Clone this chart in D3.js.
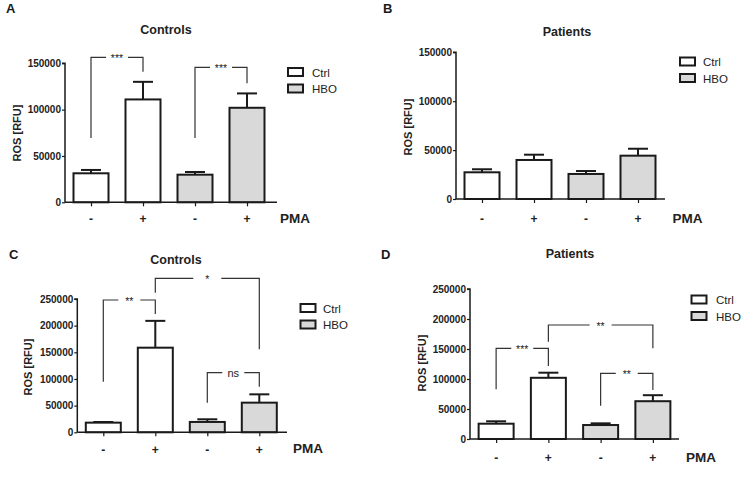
<!DOCTYPE html>
<html><head><meta charset="utf-8">
<script src="https://cdn.jsdelivr.net/npm/d3@7"></script>
<style>
body{margin:0;background:#fff;}
svg{display:block;font-family:"Liberation Sans",Arial,sans-serif;}
</style></head>
<body>
<svg id="chart" width="750" height="477"></svg>
<script>
// ---- data ----
const pmaLabels = ["-", "+", "-", "+"];
const treatments = ["Ctrl", "Ctrl", "HBO", "HBO"];
const legendLabels = ["Ctrl", "HBO"];
const panelLetters = ["A", "B", "C", "D"];
const panelTitles = ["Controls", "Patients", "Controls", "Patients"];

const aMeans = [31300, 111000, 29800, 102000];
const aSem   = [3600, 19000, 2900, 15500];
const bMeans = [27300, 39900, 25600, 44300];
const bSem   = [3100, 5400, 3000, 7100];
const cMeans = [18100, 158700, 19400, 55600];
const cSem   = [1200, 50300, 5000, 15600];
const dMeans = [25500, 102000, 23300, 63000];
const dSem   = [4000, 8500, 2800, 10000];

const ticksAB = [0, 50000, 100000, 150000];
const ticksCD = [0, 50000, 100000, 150000, 200000, 250000];

// brackets: [from, to, label, top, leftBottom, rightBottom] in data units
const aBrackets = [[0, 1, "***", 156500, 69400, 140800], [2, 3, "***", 145700, 69400, 128400]];
const bBrackets = [];
const cBrackets = [[0, 1, "**", 248100, 94900, 221900], [1, 3, "*", 288800, 261800, 155700], [2, 3, "ns", 111800, 55500, 85500]];
const dBrackets = [[0, 1, "***", 151200, 82800, 121700], [1, 3, "**", 190000, 162200, 151200], [2, 3, "**", 109500, 55500, 81700]];

// ---- layout ----
const panels = [
  {means: aMeans, sem: aSem, ticks: ticksAB, br: aBrackets, ax: 65, xr: 273, xEnd: 277, y0: 202.3, yTop: 63.3, letter: [6, 13], title: [166, 34], ylab: [21, 133], legend: [288, 68, 312], pma: [295, 223], xl: 223},
  {means: bMeans, sem: bSem, ticks: ticksAB, br: bBrackets, ax: 456, xr: 664, xEnd: 665, y0: 199, yTop: 52.3, letter: [383, 13], title: [567, 36], ylab: [412, 127], legend: [680, 57.5, 703], pma: [687.5, 223], xl: 223},
  {means: cMeans, sem: cSem, ticks: ticksCD, br: cBrackets, ax: 77.3, xr: 285.3, xEnd: 287, y0: 432.3, yTop: 299, letter: [9, 259], title: [176, 264], ylab: [32, 367], legend: [300.5, 304, 323], pma: [308, 453], xl: 454},
  {means: dMeans, sem: dSem, ticks: ticksCD, br: dBrackets, ax: 470, xr: 679, xEnd: 679, y0: 439, yTop: 289, letter: [381, 259], title: [570, 258], ylab: [426, 363], legend: [691.5, 295.5, 716], pma: [701, 462], xl: 462}
];

const svg = d3.select("#chart");
const ink = "#1a1a1a";
const grey = "#d9d9d9";
const fillOf = t => t === "Ctrl" ? "#ffffff" : grey;

panels.forEach((p, pi) => {
  const g = svg.append("g");
  const maxV = p.ticks[p.ticks.length - 1];
  const y = d3.scaleLinear().domain([0, maxV]).range([p.y0, p.yTop]);
  const x = d3.scalePoint().domain(d3.range(4)).range([p.ax, p.xr]).padding(0.5);
  const bw = 35;

  g.append("text").attr("x", p.letter[0]).attr("y", p.letter[1])
    .attr("font-size", 13).attr("font-weight", "bold").attr("fill", ink).text(panelLetters[pi]);
  g.append("text").attr("x", p.title[0]).attr("y", p.title[1]).attr("text-anchor", "middle")
    .attr("font-size", 12.5).attr("font-weight", "bold").attr("fill", "#222").text(panelTitles[pi]);
  g.append("text").attr("transform", `translate(${p.ylab[0]},${p.ylab[1]}) rotate(-90)`)
    .attr("text-anchor", "middle").attr("font-size", 11).attr("font-weight", "bold").attr("fill", "#222")
    .text("ROS [RFU]");

  g.selectAll("rect.bar").data(p.means).enter().append("rect")
    .attr("x", (d, i) => x(i) - bw / 2).attr("width", bw)
    .attr("y", d => y(d)).attr("height", d => p.y0 - y(d))
    .attr("fill", (d, i) => fillOf(treatments[i])).attr("stroke", ink).attr("stroke-width", 2);
  p.means.forEach((m, i) => {
    const top = y(m + p.sem[i]);
    g.append("line").attr("x1", x(i)).attr("x2", x(i)).attr("y1", y(m)).attr("y2", top)
      .attr("stroke", ink).attr("stroke-width", 2);
    g.append("line").attr("x1", x(i) - 10).attr("x2", x(i) + 10).attr("y1", top).attr("y2", top)
      .attr("stroke", ink).attr("stroke-width", 2);
  });

  const yAxis = d3.axisLeft(y).tickValues(p.ticks).tickSize(3).tickPadding(1).tickFormat(d3.format("d"));
  const ya = g.append("g").attr("transform", `translate(${p.ax},0)`).call(yAxis);
  ya.attr("font-size", 10).attr("font-family", "Liberation Sans, Arial, sans-serif");
  ya.select(".domain").attr("stroke", ink).attr("stroke-width", 1.5).attr("d", `M-3,${y(maxV)}H0V${p.y0}`);
  ya.selectAll(".tick line").attr("stroke", ink).attr("stroke-width", 1.2);
  ya.selectAll(".tick text").attr("font-size", 10).attr("font-weight", "bold").attr("fill", "#222");

  const xAxis = d3.axisBottom(x).tickSize(4).tickFormat(() => "");
  const xa = g.append("g").attr("transform", `translate(0,${p.y0})`).call(xAxis);
  xa.select(".domain").attr("stroke", ink).attr("stroke-width", 1.5).attr("d", `M${p.ax},0H${p.xEnd}`);
  xa.selectAll(".tick line").attr("stroke", ink).attr("stroke-width", 1.2);
  g.selectAll("text.pmaTick").data(pmaLabels).enter().append("text")
    .attr("x", (d, i) => x(i)).attr("y", p.xl).attr("text-anchor", "middle")
    .attr("font-size", 12).attr("font-weight", "bold").attr("fill", "#222").text(d => d);
  g.append("text").attr("x", p.pma[0]).attr("y", p.pma[1]).attr("text-anchor", "middle")
    .attr("font-size", 13.5).attr("font-weight", "bold").attr("fill", "#222").text("PMA");

  legendLabels.forEach((lab, li) => {
    const ly = p.legend[1] + li * 16.5;
    g.append("rect").attr("x", p.legend[0]).attr("y", ly).attr("width", 15).attr("height", 8)
      .attr("fill", fillOf(lab)).attr("stroke", ink).attr("stroke-width", 2);
    g.append("text").attr("x", p.legend[2]).attr("y", ly + 8.5)
      .attr("font-size", 11.5).attr("fill", "#222").text(lab);
  });

  p.br.forEach(b => {
    const x1 = x(b[0]), x2 = x(b[1]);
    const yt = y(b[3]);
    const mid = (x1 + x2) / 2;
    const gap = b[2] === "*" ? 14 : 11;
    const path = d3.path();
    path.moveTo(x1, y(b[4])); path.lineTo(x1, yt); path.lineTo(mid - gap, yt);
    path.moveTo(mid + gap, yt); path.lineTo(x2, yt); path.lineTo(x2, y(b[5]));
    g.append("path").attr("d", path.toString()).attr("fill", "none").attr("stroke", "#333").attr("stroke-width", 1.2);
    g.append("text").attr("x", mid).attr("y", b[2] === "ns" ? yt + 4 : yt + 5).attr("text-anchor", "middle")
      .attr("font-size", b[2] === "ns" ? 11 : 10.5).attr("fill", "#222").text(b[2]);
  });
});
</script>
</body></html>
